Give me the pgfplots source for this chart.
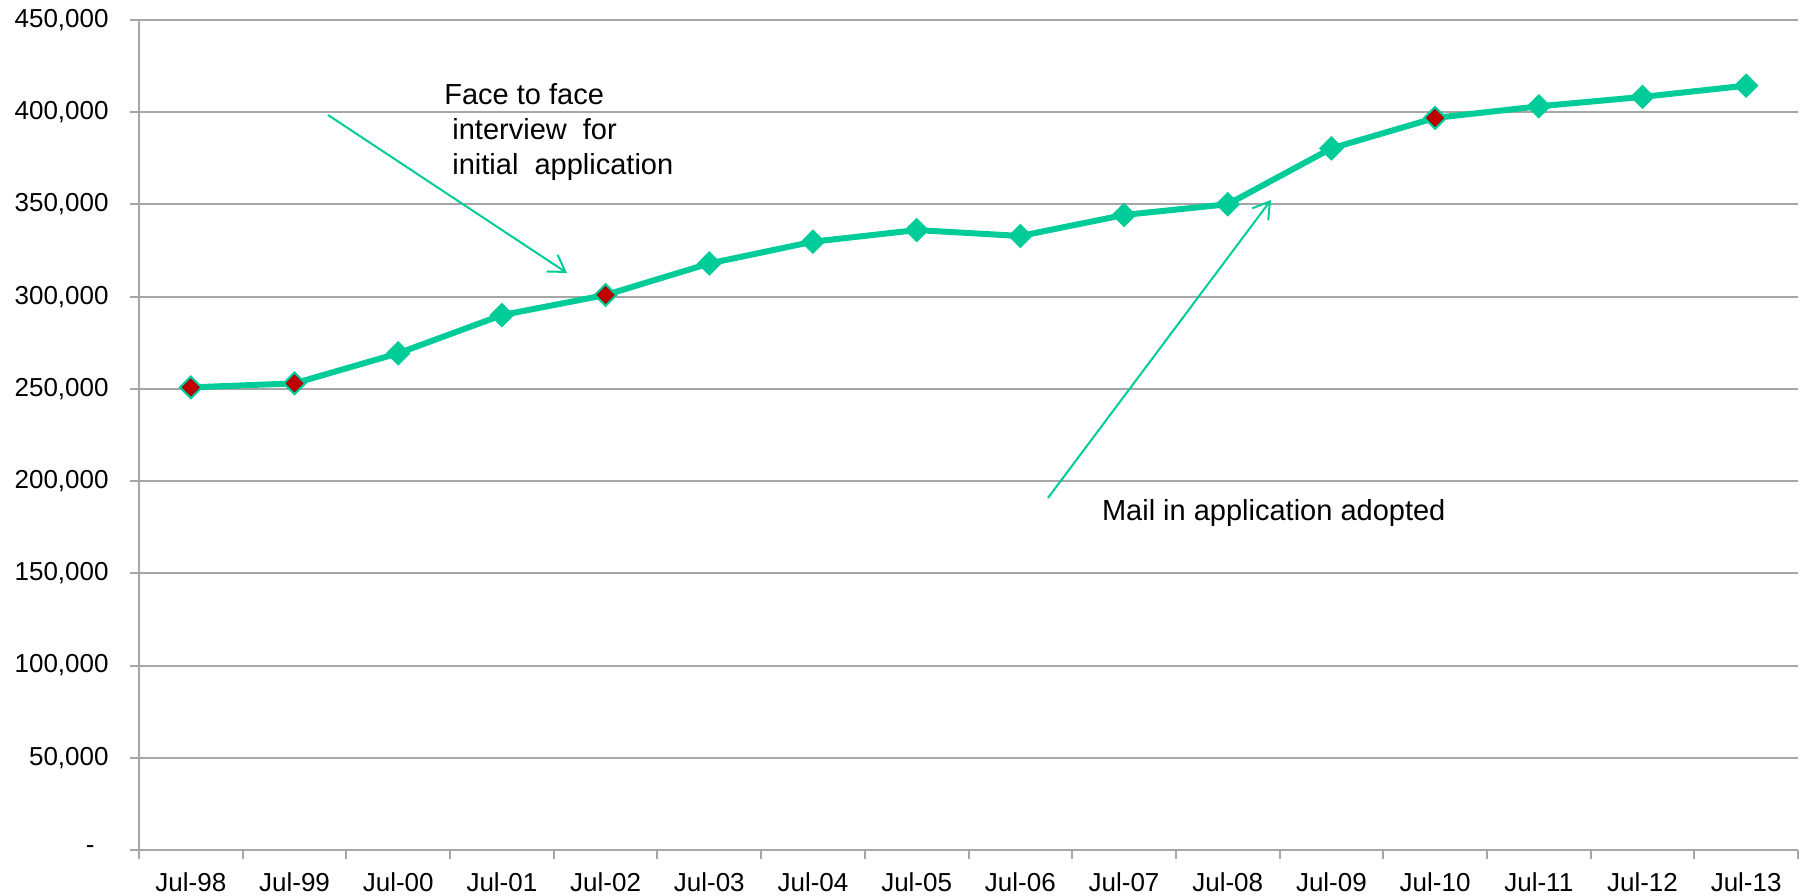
\documentclass[border=0pt]{standalone}
\usepackage{pgfplots}
\pgfplotsset{compat=1.18}
\usepackage{fontspec}
\setmainfont{Liberation Sans}
\usetikzlibrary{arrows.meta}
\definecolor{lgreen}{RGB}{0,204,153}
\definecolor{dred}{RGB}{192,0,0}
\definecolor{gridgray}{RGB}{166,166,166}
\begin{document}
\begin{tikzpicture}
\begin{axis}[name=ax, at={(0,0)}, anchor=south west,
  scale only axis, width=829.5bp, height=415bp,
  xmin=-0.5, xmax=15.5, ymin=0, ymax=450000,
  axis lines=left, axis line style={-, gridgray, line width=1bp},
  xtick={0,...,15},
  xticklabels={Jul-98,Jul-99,Jul-00,Jul-01,Jul-02,Jul-03,Jul-04,Jul-05,Jul-06,Jul-07,Jul-08,Jul-09,Jul-10,Jul-11,Jul-12,Jul-13},
  minor xtick={-0.5,0.5,...,15.5},
  major x tick style={draw=none},
  minor x tick style={gridgray, line width=1bp},
  tick align=outside, major tick length=4.5bp, minor tick length=4.5bp,
  ytick={0,50000,...,450000},
  yticklabels={{-\rule{7bp}{0pt}},{50,000},{100,000},{150,000},{200,000},{250,000},{300,000},{350,000},{400,000},{450,000}},
  y tick style={gridgray, line width=1bp},
  ymajorgrids, grid style={gridgray, line width=1bp},
  tick label style={font=\fontsize{13bp}{15bp}\selectfont, text=black},
  xticklabel style={anchor=base, inner sep=0pt, yshift=-16bp},
  yticklabel style={anchor=east, inner sep=0pt, xshift=-10.5bp},
  scaled y ticks=false,
  clip=false,
]
\addplot[lgreen, line width=3bp, mark=square*, mark size=4.1bp, mark options={rotate=45, fill=lgreen, draw=lgreen, line width=0.5bp}]
 coordinates {(0,250800) (1,253000) (2,269300) (3,290000) (4,300900) (5,318000) (6,329800) (7,336100) (8,332900) (9,344300) (10,350100) (11,380400) (12,396900) (13,403200) (14,408300) (15,414400)};
\addplot[only marks, mark=square*, mark size=3bp, mark options={rotate=45, fill=dred, draw=dred!80!black, line width=0.4bp}]
 coordinates {(0,250800) (1,253000) (4,300900) (12,396900)};
\draw[lgreen, line width=1bp, -{Straight Barb[length=8bp,width=10bp]}] (axis cs:1.323,398494) -- (axis cs:3.628,312831);
\draw[lgreen, line width=1bp, -{Straight Barb[length=8bp,width=10bp]}] (axis cs:8.266,190843) -- (axis cs:10.417,352410);
\node[anchor=base west, inner sep=0pt, font=\fontsize{14.5bp}{17bp}\selectfont] at (axis cs:2.441,404295) {Face to face};
\node[anchor=base west, inner sep=0pt, font=\fontsize{14.5bp}{17bp}\selectfont] at (axis cs:2.519,384940) {interview\ \ for};
\node[anchor=base west, inner sep=0pt, font=\fontsize{14.5bp}{17bp}\selectfont] at (axis cs:2.519,365964) {initial\ \ application};
\node[anchor=base west, inner sep=0pt, font=\fontsize{14.5bp}{17bp}\selectfont] at (axis cs:8.784,178536) {Mail in application adopted};
\end{axis}
\pgfresetboundingbox
\path (ax.south west) ++(-69.5bp,-23bp) rectangle ++(903.5bp,448bp);
\end{tikzpicture}
\end{document}
